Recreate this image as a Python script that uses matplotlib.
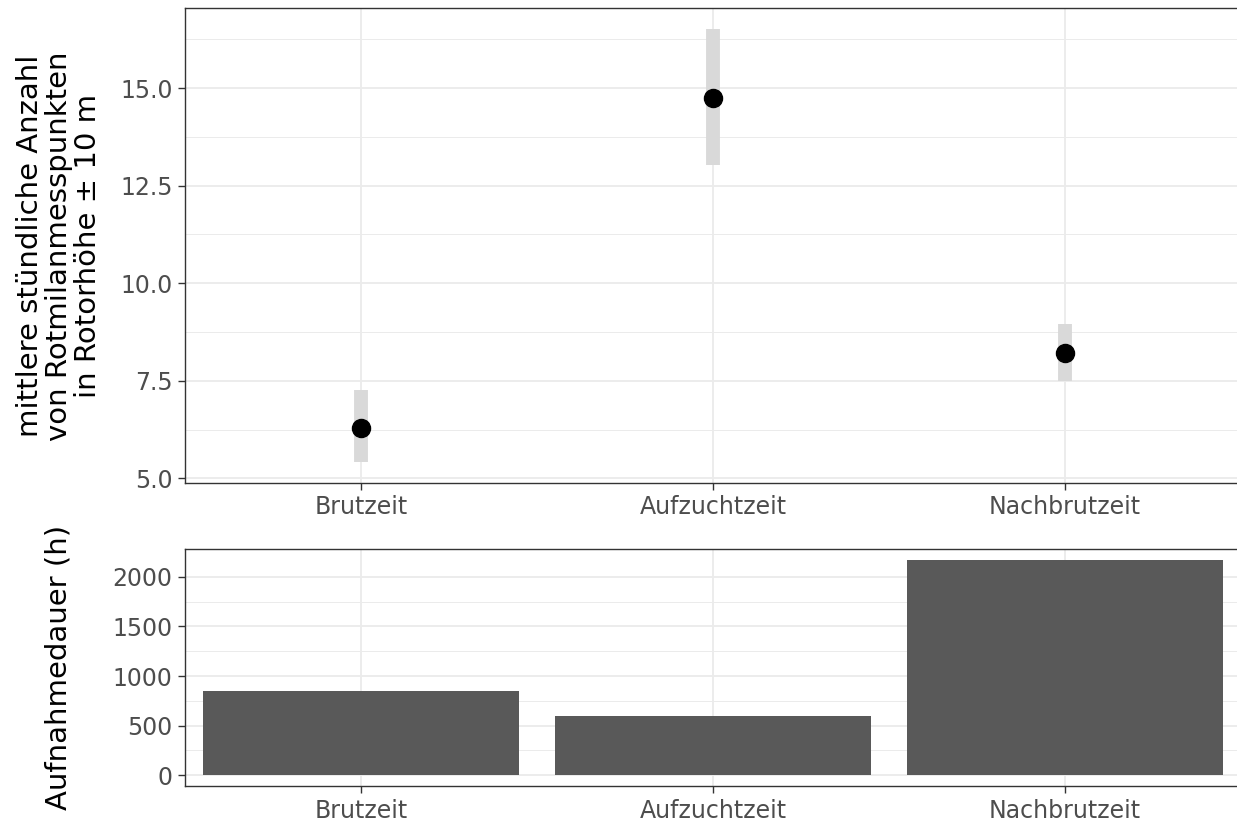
import matplotlib
matplotlib.use("Agg")
from matplotlib import pyplot as plt
from matplotlib.ticker import FixedLocator, FormatStrFormatter

# data
phasen = ["Brutzeit", "Aufzuchtzeit", "Nachbrutzeit"]
mittel = [6.30, 14.75, 8.21]
unten = [5.43, 13.04, 7.50]
oben = [7.27, 16.50, 8.95]
dauer = [854, 593, 2172]

GRID = "#EBEBEB"
BORDER = "#333333"
TICKTXT = "#4D4D4D"

W, H = 1237, 823
fig = plt.figure(figsize=(W / 100, H / 100), dpi=100)
fig.patch.set_facecolor("white")


def px_axes(left, top, right, bottom):
    return fig.add_axes([left / W, 1 - bottom / H, (right - left) / W, (bottom - top) / H])


def style_axes(ax, major, minor):
    ax.set_facecolor("white")
    for sp in ax.spines.values():
        sp.set_color(BORDER)
        sp.set_linewidth(1.0)
    ax.yaxis.set_major_locator(FixedLocator(major))
    ax.yaxis.set_minor_locator(FixedLocator(minor))
    ax.set_axisbelow(True)
    ax.grid(True, which="major", axis="both", color=GRID, linewidth=1.3)
    ax.grid(True, which="minor", axis="y", color=GRID, linewidth=0.7)
    ax.tick_params(axis="both", which="major", length=5, width=1.0, color=BORDER,
                   labelsize=17, labelcolor=TICKTXT, pad=4)
    ax.tick_params(axis="y", which="minor", length=0)
    ax.set_xticks(range(1, len(phasen) + 1))
    ax.set_xticklabels(phasen)
    ax.set_xlim(0.5, 3.5)


x = list(range(1, len(phasen) + 1))

# upper panel: mean with interval
ax1 = px_axes(185, 8, 1241, 483)
style_axes(ax1, [5.0, 7.5, 10.0, 12.5, 15.0], [6.25, 8.75, 11.25, 13.75, 16.25])
ax1.vlines(x, unten, oben, colors="#D9D9D9", linewidth=10, capstyle="butt", zorder=2)
ax1.plot(x, mittel, "o", color="black", markersize=13, zorder=3)
ax1.set_ylim(4.88, 17.05)
ax1.yaxis.set_major_formatter(FormatStrFormatter("%.1f"))

# lower panel: recording duration
ax2 = px_axes(185, 549, 1241, 786)
style_axes(ax2, [0, 500, 1000, 1500, 2000], [250, 750, 1250, 1750])
ax2.bar(x, dauer, width=0.9, color="#595959", zorder=2)
ax2.set_ylim(-109, 2281)

fig.text(59 / W, 1 - 246 / H,
         "mittlere stündliche Anzahl\nvon Rotmilanmesspunkten\nin Rotorhöhe ± 10 m",
         rotation=90, ha="center", va="center", multialignment="center",
         fontsize=21, color="black", linespacing=1.05)
fig.text(59 / W, 1 - 667 / H, "Aufnahmedauer (h)",
         rotation=90, ha="center", va="center", fontsize=21, color="black")

fig.savefig("out.png", dpi=100, facecolor="white")
